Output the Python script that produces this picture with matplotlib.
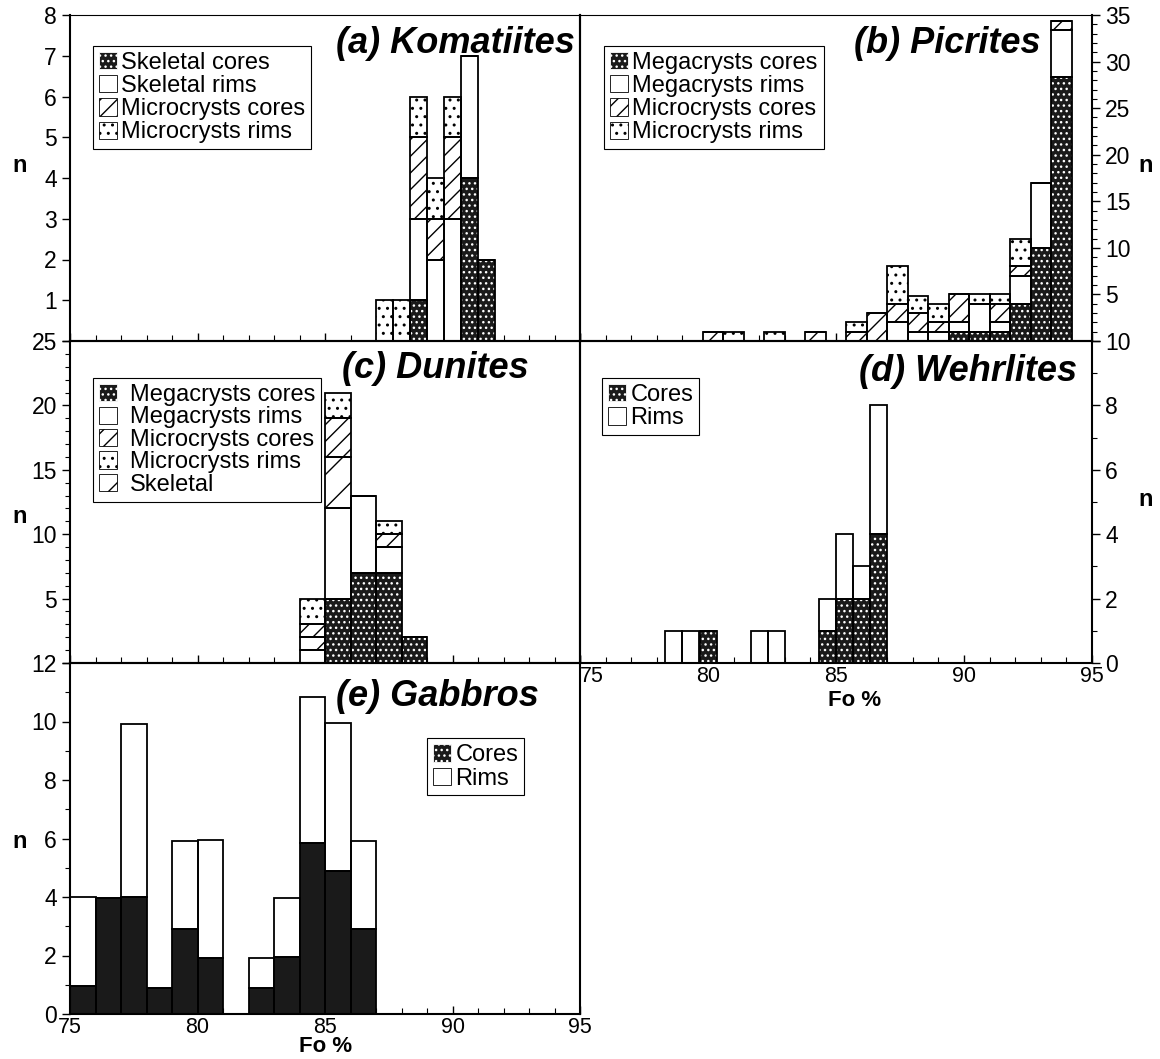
import matplotlib
matplotlib.use('Agg')
import matplotlib.pyplot as plt
from matplotlib.patches import Patch
from matplotlib.ticker import MultipleLocator, FixedLocator

plt.rcParams['font.family'] = ['Liberation Sans', 'DejaVu Sans']
plt.rcParams['hatch.linewidth'] = 1.0

# ---------------- data ----------------
# (a) Komatiites, bins of 2/3 Fo unit
a_fo = [87.0, 87.67, 88.33, 89.0, 89.67, 90.33, 91.0]
a_skel_cores = [0, 0, 1, 0, 0, 4, 2]
a_skel_rims = [0, 0, 2, 2, 3, 3, 0]
a_micro_cores = [0, 0, 2, 1, 2, 0, 0]
a_micro_rims = [1, 1, 1, 1, 1, 0, 0]

# (b) Picrites, bins of 0.8 Fo unit
b_fo = [79.8, 80.6, 81.4, 82.2, 83.0, 83.8, 84.6, 85.4, 86.2,
        87.0, 87.8, 88.6, 89.4, 90.2, 91.0, 91.8, 92.6, 93.4]
b_mega_cores = [0, 0, 0, 0, 0, 0, 0, 0, 0, 0, 0, 0, 1, 1, 1, 4, 10, 28.3]
b_mega_rims = [0, 0, 0, 0, 0, 0, 0, 0, 0, 2, 1, 1, 1, 3, 1, 3, 7, 5.1]
b_micro_cores = [1, 0, 0, 0, 0, 1, 0, 1, 3, 2, 2, 1, 3, 0, 2, 1, 0, 1]
b_micro_rims = [0, 1, 0, 1, 0, 0, 0, 1, 0, 4, 1.8, 2, 0, 1, 1, 3, 0, 0]

# (c) Dunites, bins of 1 Fo unit
c_fo = [84, 85, 86, 87, 88]
c_mega_cores = [0, 5, 7, 7, 2]
c_mega_rims = [1, 7, 6, 2, 0]
c_skeletal = [1, 4, 0, 0, 0]
c_micro_cores = [1, 3, 0, 1, 0]
c_micro_rims = [2, 2, 0, 1, 0]

# (d) Wehrlites, bins of 2/3 Fo unit
d_fo = [78.33, 79.0, 79.67, 81.67, 82.33, 84.33, 85.0, 85.67, 86.33]
d_cores = [0, 0, 1, 0, 0, 1, 2, 2, 4]
d_rims = [1, 1, 0, 1, 1, 1, 2, 1, 4]

# (e) Gabbros, bins of 1 Fo unit
e_fo = [75, 76, 77, 78, 79, 80, 81, 82, 83, 84, 85, 86]
e_cores = [0.95, 3.95, 4.0, 0.9, 2.9, 1.9, 0, 0.9, 1.95, 5.85, 4.9, 2.9]
e_rims = [3.05, 0, 5.9, 0, 3.0, 4.05, 0, 1.0, 2.0, 5.0, 5.05, 3.0]

x_ticks = [75, 80, 85, 90, 95]

# ---------------- styles ----------------
ST_CORE = dict(face='#1a1a1a', hatch='...', hcol='white')
ST_CORE_SOLID = dict(face='#1a1a1a', hatch=None, hcol='#1a1a1a')
ST_RIM = dict(face='white', hatch=None, hcol='black')
ST_MC = dict(face='white', hatch='//', hcol='black')
ST_MR = dict(face='white', hatch='..', hcol='black')
ST_SK = dict(face='white', hatch='/', hcol='black')

W, H = 1160, 1059
fig = plt.figure(figsize=(W / 100, H / 100), dpi=100)


def rect(l, t, r, b):
    return [l / W, 1 - b / H, (r - l) / W, (b - t) / H]


ax_a = fig.add_axes(rect(70, 15, 580, 341))
ax_b = fig.add_axes(rect(580, 15, 1092, 341))
ax_c = fig.add_axes(rect(70, 341, 580, 663))
ax_d = fig.add_axes(rect(580, 341, 1092, 663))
ax_e = fig.add_axes(rect(70, 663, 580, 1014))
for ax in (ax_a, ax_b, ax_c, ax_d, ax_e):
    ax.set_facecolor('none')


def stack(ax, lefts, width, series):
    bottom = [0.0] * len(lefts)
    for vals, st in series:
        ax.bar(lefts, vals, width=width, bottom=bottom, align='edge',
               color=st['face'], edgecolor=st['hcol'], hatch=st['hatch'],
               linewidth=0, zorder=2)
        bottom = [b + v for b, v in zip(bottom, vals)]
    bottom = [0.0] * len(lefts)
    for vals, st in series:
        ax.bar(lefts, vals, width=width, bottom=bottom, align='edge',
               fill=False, edgecolor='black', linewidth=1.3, zorder=3)
        bottom = [b + v for b, v in zip(bottom, vals)]


def leg_handle(st):
    if st is ST_CORE or st is ST_CORE_SOLID:
        return Patch(facecolor='#1a1a1a', edgecolor='white', hatch='...', linewidth=0.6)
    return Patch(facecolor='white', edgecolor='black', hatch=st['hatch'], linewidth=0.6)


def legend(ax, items, loc_xy, fs=17, pad=0.2, spacing=0.05):
    handles = [leg_handle(st) for _, st in items]
    labels = [lab for lab, _ in items]
    lg = ax.legend(handles, labels, loc='upper left', bbox_to_anchor=loc_xy,
                   fontsize=fs, handlelength=0.75, handleheight=0.75,
                   handletextpad=pad, labelspacing=spacing, borderpad=0.25,
                   borderaxespad=0, fancybox=False, framealpha=1,
                   edgecolor='black')
    lg.get_frame().set_linewidth(0.8)
    lg.set_zorder(5)


def common(ax):
    ax.set_xlim(75, 95)
    ax.xaxis.set_major_locator(MultipleLocator(5))
    ax.xaxis.set_minor_locator(MultipleLocator(1))
    ax.tick_params(axis='x', which='both', direction='in', top=False,
                   labelsize=15.5, pad=2)
    ax.tick_params(axis='x', which='major', length=6, width=1)
    ax.tick_params(axis='x', which='minor', length=4, width=0.8)
    ax.tick_params(axis='y', which='both', direction='out', labelsize=16.5)
    ax.tick_params(axis='y', which='major', length=6, width=1)
    ax.tick_params(axis='y', which='minor', length=3.5, width=0.8)
    for s in ax.spines.values():
        s.set_linewidth(1.5)


TITLE = dict(fontsize=26, fontweight='bold', style='italic', ha='right', va='top')
BOLD = dict(fontsize=16, fontweight='bold', ha='center', va='center')

# (a)
common(ax_a)
stack(ax_a, a_fo, 0.667, [(a_skel_cores, ST_CORE), (a_skel_rims, ST_RIM),
                          (a_micro_cores, ST_MC), (a_micro_rims, ST_MR)])
ax_a.set_ylim(0, 8)
ax_a.yaxis.set_major_locator(FixedLocator(range(0, 9)))
ax_a.set_yticklabels([''] + [str(v) for v in range(1, 9)])
ax_a.set_xticklabels([])
ax_a.spines['top'].set_linewidth(0.8)
ax_a.spines['top'].set_linestyle((0, (1, 1)))
ax_a.text(0.99, 0.965, '(a) Komatiites', transform=ax_a.transAxes, **TITLE)
legend(ax_a, [('Skeletal cores', ST_CORE), ('Skeletal rims', ST_RIM),
              ('Microcrysts cores', ST_MC), ('Microcrysts rims', ST_MR)],
       (0.045, 0.905))

# (b)
common(ax_b)
stack(ax_b, b_fo, 0.8, [(b_mega_cores, ST_CORE), (b_mega_rims, ST_RIM),
                        (b_micro_cores, ST_MC), (b_micro_rims, ST_MR)])
ax_b.set_ylim(0, 35)
ax_b.yaxis.tick_right()
ax_b.yaxis.set_major_locator(FixedLocator(range(0, 36, 5)))
ax_b.yaxis.set_minor_locator(MultipleLocator(1))
ax_b.set_yticklabels([''] + [str(v) for v in range(5, 36, 5)])
ax_b.tick_params(axis='y', which='both', left=False, right=True)
ax_b.set_xticklabels([])
ax_b.spines['top'].set_linewidth(0.8)
ax_b.spines['top'].set_linestyle((0, (1, 1)))
ax_b.text(0.9, 0.965, '(b) Picrites', transform=ax_b.transAxes, **TITLE)
legend(ax_b, [('Megacrysts cores', ST_CORE), ('Megacrysts rims', ST_RIM),
              ('Microcrysts cores', ST_MC), ('Microcrysts rims', ST_MR)],
       (0.047, 0.905))

# (c)
common(ax_c)
stack(ax_c, c_fo, 1.0, [(c_mega_cores, ST_CORE), (c_mega_rims, ST_RIM),
                        (c_skeletal, ST_SK), (c_micro_cores, ST_MC),
                        (c_micro_rims, ST_MR)])
ax_c.set_ylim(0, 25)
ax_c.yaxis.set_major_locator(FixedLocator(range(0, 26, 5)))
ax_c.yaxis.set_minor_locator(MultipleLocator(1))
ax_c.set_yticklabels([''] + [str(v) for v in range(5, 26, 5)])
ax_c.set_xticklabels([])
ax_c.text(0.9, 0.97, '(c) Dunites', transform=ax_c.transAxes, **TITLE)
legend(ax_c, [('Megacrysts cores', ST_CORE), ('Megacrysts rims', ST_RIM),
              ('Microcrysts cores', ST_MC), ('Microcrysts rims', ST_MR),
              ('Skeletal', ST_SK)],
       (0.045, 0.885), fs=17, pad=0.55, spacing=0.02)

# (d)
common(ax_d)
stack(ax_d, d_fo, 0.667, [(d_cores, ST_CORE), (d_rims, ST_RIM)])
ax_d.set_ylim(0, 10)
ax_d.yaxis.tick_right()
ax_d.yaxis.set_major_locator(MultipleLocator(2))
ax_d.yaxis.set_minor_locator(MultipleLocator(1))
ax_d.tick_params(axis='y', which='both', left=False, right=True)
ax_d.set_xticks(x_ticks)
ax_d.get_xticklabels()[0].set_horizontalalignment('left')
ax_d.text(0.97, 0.96, '(d) Wehrlites', transform=ax_d.transAxes, **TITLE)
legend(ax_d, [('Cores', ST_CORE), ('Rims', ST_RIM)], (0.043, 0.885))

# (e)
common(ax_e)
stack(ax_e, e_fo, 1.0, [(e_cores, ST_CORE_SOLID), (e_rims, ST_RIM)])
ax_e.set_ylim(0, 12)
ax_e.yaxis.set_major_locator(MultipleLocator(2))
ax_e.yaxis.set_minor_locator(MultipleLocator(1))
ax_e.set_xticks(x_ticks)
ax_e.text(0.92, 0.955, '(e) Gabbros', transform=ax_e.transAxes, **TITLE)
legend(ax_e, [('Cores', ST_CORE), ('Rims', ST_RIM)], (0.70, 0.785))

# axis titles
fig.text(855 / W, 1 - 701 / H, 'Fo %', **BOLD)
fig.text(326 / W, 1 - 1046 / H, 'Fo %', **BOLD)
for (x, y) in [(20, 165), (20, 517), (20, 842), (1146, 165), (1146, 500)]:
    fig.text(x / W, 1 - y / H, 'n', fontsize=17, fontweight='bold',
             ha='center', va='center')

fig.savefig('out.png', dpi=100)
